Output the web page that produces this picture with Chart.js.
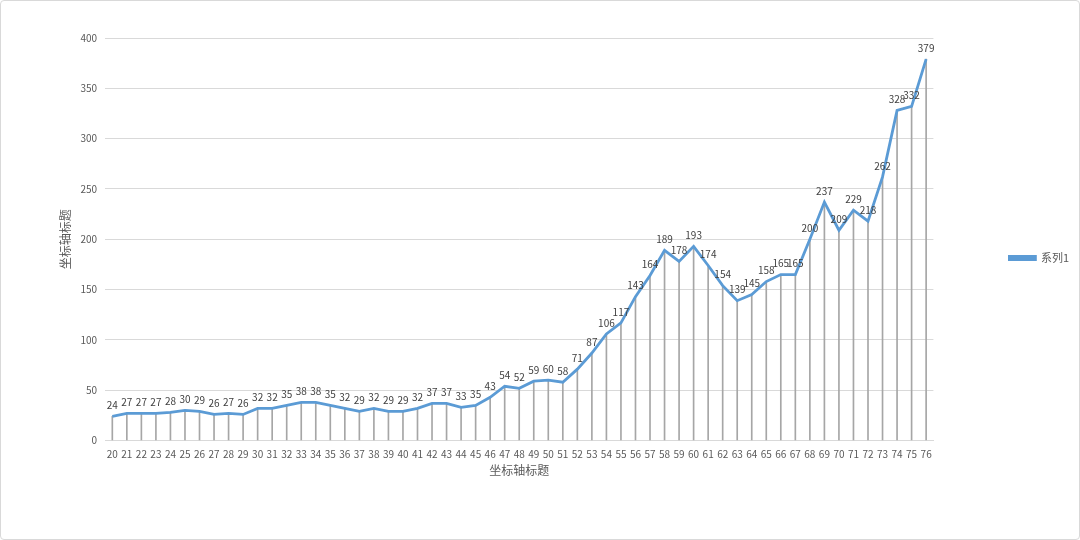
<!DOCTYPE html>
<html lang="zh">
<head>
<meta charset="UTF-8">
<title>系列1</title>
<script src="https://cdn.jsdelivr.net/npm/chart.js"></script>
<style>
    html, body { margin: 0; padding: 0; background: #fff; }
    .box { position: absolute; left: 0; top: 0; width: 1078px; height: 538px; border: 1px solid #d9d9d9; border-radius: 4px; }
    canvas { display: block; }
</style>
</head>
<body>
<div class="box"><canvas id="chart" width="1078" height="538"></canvas></div>
<script>
const ages = [20,21,22,23,24,25,26,27,28,29,30,31,32,33,34,35,36,37,38,39,40,41,42,43,44,45,46,47,48,49,50,51,52,53,54,55,56,57,58,59,60,61,62,63,64,65,66,67,68,69,70,71,72,73,74,75,76];
const series1 = [24,27,27,27,28,30,29,26,27,26,32,32,35,38,38,35,32,29,32,29,29,32,37,37,33,35,43,54,52,59,60,58,71,87,106,117,143,164,189,178,193,174,154,139,145,158,165,165,200,237,209,229,218,262,328,332,379];
const yTicks = [0, 50, 100, 150, 200, 250, 300, 350, 400];

const font = "'Microsoft YaHei', 'Noto Sans CJK SC', sans-serif";

// value labels above each point
const labelPlugin = {
    id: 'valueLabels',
    afterDatasetsDraw(chart) {
        const ctx = chart.ctx;
        const meta = chart.getDatasetMeta(1);
        ctx.save();
        ctx.font = '10px ' + font;
        ctx.fillStyle = '#404040';
        ctx.textAlign = 'center';
        ctx.textBaseline = 'bottom';
        meta.data.forEach((pt, i) => {
            ctx.fillText(series1[i], pt.x, pt.y - 6);
        });
        ctx.restore();
    }
};

new Chart(document.getElementById('chart'), {
    data: {
        labels: ages,
        datasets: [
            {
                type: 'bar',
                label: 'drop',
                data: series1,
                backgroundColor: '#a6a6a6',
                barThickness: 1,
                order: 2
            },
            {
                type: 'line',
                label: '系列1',
                data: series1,
                borderColor: '#5b9bd5',
                backgroundColor: '#5b9bd5',
                borderWidth: 2.8,
                pointRadius: 0,
                tension: 0,
                order: 1
            }
        ]
    },
    options: {
        responsive: false,
        animation: false,
        layout: { padding: { top: 37, right: 0, bottom: 61, left: 57 } },
        plugins: {
            tooltip: { enabled: false },
            legend: {
                position: 'right',
                labels: {
                    filter: item => item.text === '系列1',
                    boxWidth: 26,
                    boxHeight: 3,
                    padding: 76,
                    color: '#595959',
                    font: { size: 11, family: font }
                }
            }
        },
        scales: {
            x: {
                offset: true,
                grid: { display: false },
                border: { color: '#d9d9d9' },
                ticks: { color: '#595959', font: { size: 10, family: font }, maxRotation: 0, autoSkip: false, padding: 0 },
                title: { display: true, text: '坐标轴标题', color: '#595959', font: { size: 12, family: font }, padding: { top: 3, bottom: 0 } }
            },
            y: {
                min: 0,
                max: 400,
                afterBuildTicks: axis => { axis.ticks = yTicks.map(v => ({ value: v })); },
                grid: { color: '#d9d9d9', drawTicks: false },
                border: { display: false },
                ticks: { color: '#595959', font: { size: 10, family: font }, padding: 8 },
                title: { display: true, text: '坐标轴标题', color: '#595959', font: { size: 12, family: font }, padding: 0 }
            }
        }
    },
    plugins: [labelPlugin]
});
</script>
</body>
</html>
